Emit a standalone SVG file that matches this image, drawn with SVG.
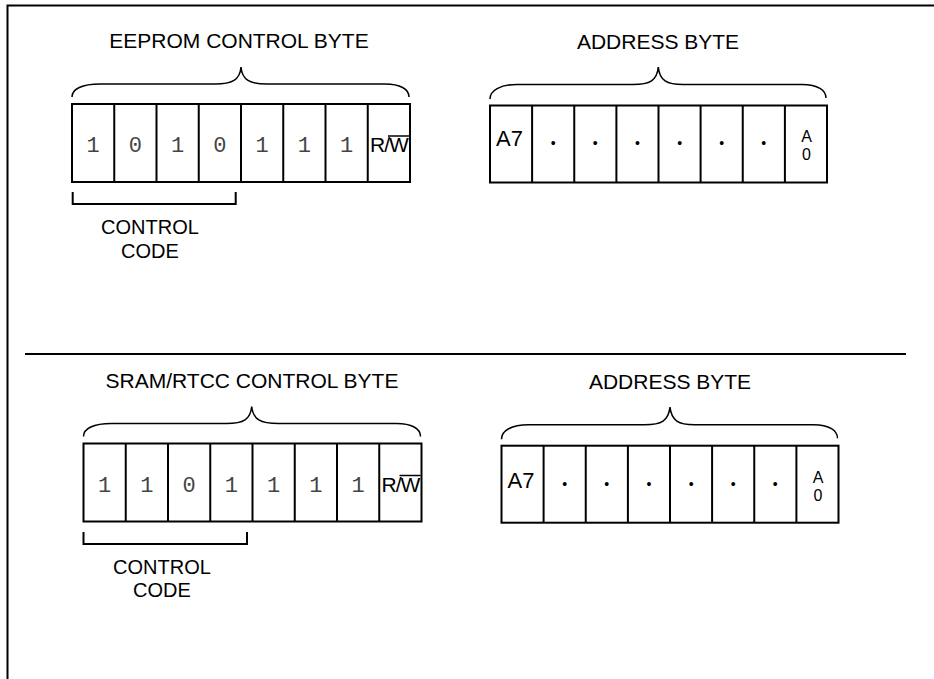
<svg xmlns="http://www.w3.org/2000/svg" width="934" height="679" viewBox="0 0 934 679">
<style>
.box{fill:#fff;stroke:#000;stroke-width:2}
.div{stroke:#000;stroke-width:2}
.brace{fill:none;stroke:#000;stroke-width:1.5}
.bracket{fill:none;stroke:#000;stroke-width:2}
.title{font-family:"Liberation Sans",Arial,sans-serif;font-size:21px;fill:#000;text-anchor:middle}
.lbl{font-family:"Liberation Sans",Arial,sans-serif;font-size:20px;fill:#000;text-anchor:middle}
.rw{font-family:"Liberation Sans",Arial,sans-serif;font-size:21px;fill:#000;text-anchor:middle;letter-spacing:-1px}
.bit{font-family:"Liberation Mono","Courier New",monospace;font-size:22px;fill:#444;text-anchor:middle}
.a7{font-family:"Liberation Sans",Arial,sans-serif;font-size:22px;fill:#000;text-anchor:middle}
.a0{font-family:"Liberation Sans",Arial,sans-serif;font-size:16px;fill:#000;text-anchor:middle}
.dot{font-family:"Liberation Sans",Arial,sans-serif;font-size:14px;fill:#000;text-anchor:middle}
.frame{fill:none;stroke:#000;stroke-width:2}
</style>
<defs>
<path id="ctlCells" d="M42.25,0V78M84.5,0V78M126.75,0V78M169,0V78M211.25,0V78M253.5,0V78M295.75,0V78"/>
<path id="adrCells" d="M42.1,0V77M84.25,0V77M126.4,0V77M168.5,0V77M210.6,0V77M252.75,0V77M294.9,0V77"/>
</defs>

<g id="frame">
<path class="frame" d="M7.5,679V5.5H934"/>
<line class="frame" x1="25" y1="354" x2="906" y2="354"/>
</g>

<g id="eeprom-control-byte" transform="translate(72,104)">
<text class="title" x="167" y="-56">EEPROM CONTROL BYTE</text>
<path class="brace" d="M0,-7C0,-15 10,-20 28,-20L143,-20C160,-20 168,-24 169,-37C170,-24 178,-20 195,-20L313,-20C328,-20 337,-15 337,-7"/>
<rect class="box" x="0" y="0" width="338" height="78"/>
<use href="#ctlCells" class="div"/>
<text class="bit" x="21.1" y="48">1</text>
<text class="bit" x="63.4" y="48">0</text>
<text class="bit" x="105.6" y="48">1</text>
<text class="bit" x="147.9" y="48">0</text>
<text class="bit" x="190.1" y="48">1</text>
<text class="bit" x="232.4" y="48">1</text>
<text class="bit" x="274.6" y="48">1</text>
<text class="rw" x="317" y="48">R/W</text>
<line x1="316" y1="32" x2="337" y2="32" stroke="#000" stroke-width="1.5"/>
</g>

<g id="eeprom-control-code" transform="translate(72,104)">
<path class="bracket" d="M0.7,88V100H163.7V88"/>
<text class="lbl" x="78" y="130">CONTROL</text>
<text class="lbl" x="78" y="153.7">CODE</text>
</g>

<g id="eeprom-address-byte" transform="translate(490,105.5)">
<text class="title" x="168" y="-56.5">ADDRESS BYTE</text>
<path class="brace" d="M0,-6.5C0,-15 10,-21 27,-21L143,-21C160,-21 167,-25 168.3,-38.5C169.5,-25 177,-21 193,-21L312,-21C328,-21 336,-15 336,-7.5"/>
<rect class="box" x="0" y="0" width="337" height="77"/>
<use href="#adrCells" class="div"/>
<text class="a7" x="19.5" y="40.5">A7</text>
<text class="dot" x="63.2" y="42.5">•</text>
<text class="dot" x="105.3" y="42.5">•</text>
<text class="dot" x="147.5" y="42.5">•</text>
<text class="dot" x="189.6" y="42.5">•</text>
<text class="dot" x="231.7" y="42.5">•</text>
<text class="dot" x="273.8" y="42.5">•</text>
<text class="a0" x="316.5" y="36">A</text>
<text class="a0" x="316.5" y="54">0</text>
</g>

<g id="sram-control-byte" transform="translate(83.5,443.5)">
<text class="title" x="168.5" y="-55.5">SRAM/RTCC CONTROL BYTE</text>
<path class="brace" d="M0,-7C0,-15 10,-20 28,-20L143,-20C160,-20 167,-24 168.2,-37C169.5,-24 177,-20 195,-20L313,-20C328,-20 337,-15 337,-7"/>
<rect class="box" x="0" y="0" width="338" height="78"/>
<use href="#ctlCells" class="div"/>
<text class="bit" x="21.1" y="48">1</text>
<text class="bit" x="63.4" y="48">1</text>
<text class="bit" x="105.6" y="48">0</text>
<text class="bit" x="147.9" y="48">1</text>
<text class="bit" x="190.1" y="48">1</text>
<text class="bit" x="232.4" y="48">1</text>
<text class="bit" x="274.6" y="48">1</text>
<text class="rw" x="317" y="48">R/W</text>
<line x1="316" y1="32" x2="337" y2="32" stroke="#000" stroke-width="1.5"/>
</g>

<g id="sram-control-code" transform="translate(83.5,443.5)">
<path class="bracket" d="M0,88.5V100.5H163.5V88.5"/>
<text class="lbl" x="78.5" y="130">CONTROL</text>
<text class="lbl" x="78.5" y="153.7">CODE</text>
</g>

<g id="sram-address-byte" transform="translate(501.5,445.7)">
<text class="title" x="168.5" y="-56.5">ADDRESS BYTE</text>
<path class="brace" d="M0,-6.5C0,-15 10,-21 27,-21L143,-21C160,-21 167,-25 168.5,-38.5C170,-25 177,-21 193,-21L312,-21C328,-21 336,-15 336,-7.5"/>
<rect class="box" x="0" y="0" width="337" height="77"/>
<use href="#adrCells" class="div"/>
<text class="a7" x="19.5" y="42">A7</text>
<text class="dot" x="63.2" y="43.5">•</text>
<text class="dot" x="105.3" y="43.5">•</text>
<text class="dot" x="147.5" y="43.5">•</text>
<text class="dot" x="189.6" y="43.5">•</text>
<text class="dot" x="231.7" y="43.5">•</text>
<text class="dot" x="273.8" y="43.5">•</text>
<text class="a0" x="316.5" y="37.5">A</text>
<text class="a0" x="316.5" y="55.5">0</text>
</g>
</svg>
